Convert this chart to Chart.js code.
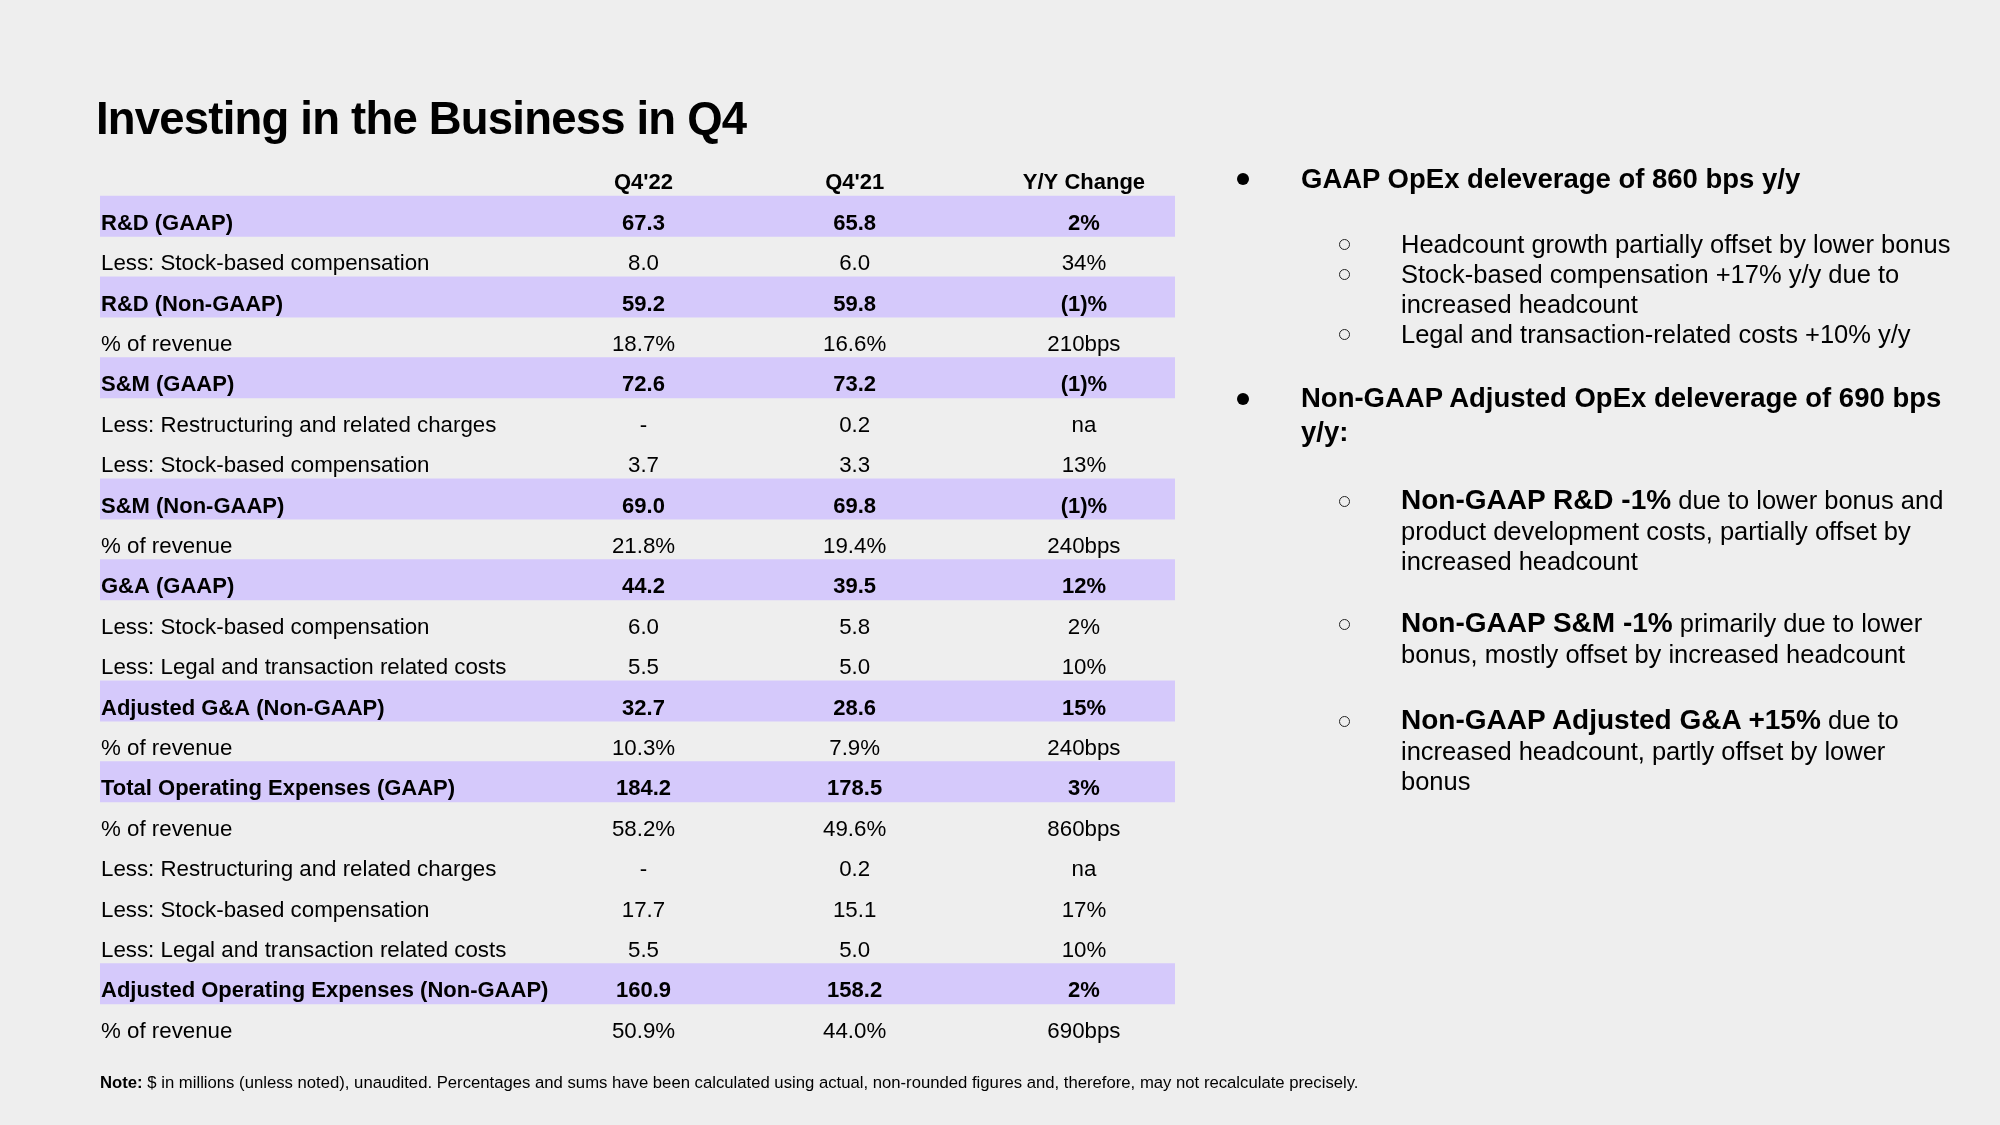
<!DOCTYPE html>
<html>
<head>
<meta charset="utf-8">
<script src="https://cdn.jsdelivr.net/npm/chart.js@4.4.1/dist/chart.umd.min.js"></script>
<style>
  html, body { margin: 0; padding: 0; }
  body { width: 2000px; height: 1125px; background: #eeeeee; position: relative; overflow: hidden;
         font-family: "Liberation Sans", Arial, Helvetica, sans-serif; color: #000; }
  #chart { position: absolute; left: 0; top: 0; }
  .title { position: absolute; left: 96px; top: 94px; font-size: 45.5px; line-height: 50px; font-weight: bold; letter-spacing: -0.8px; }
  .blk { position: absolute; left: 1301px; white-space: nowrap; }
  .head { font-size: 27.5px; font-weight: bold; line-height: 34px; }
  .sub { left: 1401px; font-size: 25.5px; line-height: 30px; }
  .sub b { font-size: 28px; }
  .dot { position: absolute; width: 12px; height: 12px; border-radius: 50%; background: #000; }
  .ring { position: absolute; width: 9px; height: 9px; border-radius: 50%; border: 1.3px solid #222; }
  .note { position: absolute; left: 100px; top: 1073px; font-size: 16.7px; line-height: 20px; white-space: nowrap; }
</style>
</head>
<body>
<canvas id="chart" width="2000" height="1125"></canvas>

<div class="title">Investing in the Business in Q4</div>

<div class="dot" style="left:1237px; top:173px;"></div>
<div class="blk head" style="top:162px;">GAAP OpEx deleverage of 860 bps y/y</div>

<div class="ring" style="left:1339px; top:239px;"></div>
<div class="blk sub" style="top:229px;">Headcount growth partially offset by lower bonus</div>
<div class="ring" style="left:1339px; top:269px;"></div>
<div class="blk sub" style="top:259px;">Stock-based compensation +17% y/y due to<br>increased headcount</div>
<div class="ring" style="left:1339px; top:329px;"></div>
<div class="blk sub" style="top:319px;">Legal and transaction-related costs +10% y/y</div>

<div class="dot" style="left:1237px; top:393px;"></div>
<div class="blk head" style="top:381px;">Non-GAAP Adjusted OpEx deleverage of 690 bps<br>y/y:</div>

<div class="ring" style="left:1339px; top:496px;"></div>
<div class="blk sub" style="top:485px; line-height:30.5px;"><b>Non-GAAP R&amp;D -1%</b> due to lower bonus and<br>product development costs, partially offset by<br>increased headcount</div>
<div class="ring" style="left:1339px; top:619px;"></div>
<div class="blk sub" style="top:608px; line-height:30.5px;"><b>Non-GAAP S&amp;M -1%</b> primarily due to lower<br>bonus, mostly offset by increased headcount</div>
<div class="ring" style="left:1339px; top:716px;"></div>
<div class="blk sub" style="top:705px; line-height:30.5px;"><b>Non-GAAP Adjusted G&amp;A +15%</b> due to<br>increased headcount, partly offset by lower<br>bonus</div>

<div class="note"><b>Note:</b> $ in millions (unless noted), unaudited. Percentages and sums have been calculated using actual, non-rounded figures and, therefore, may not recalculate precisely.</div>

<script>
// table data
const columnHeaders = ["Q4'22", "Q4'21", "Y/Y Change"];
const rowLabels = [
  'R&D (GAAP)', 'Less: Stock-based compensation', 'R&D (Non-GAAP)', '% of revenue',
  'S&M (GAAP)', 'Less: Restructuring and related charges', 'Less: Stock-based compensation',
  'S&M (Non-GAAP)', '% of revenue',
  'G&A (GAAP)', 'Less: Stock-based compensation', 'Less: Legal and transaction related costs',
  'Adjusted G&A (Non-GAAP)', '% of revenue',
  'Total Operating Expenses (GAAP)', '% of revenue', 'Less: Restructuring and related charges',
  'Less: Stock-based compensation', 'Less: Legal and transaction related costs',
  'Adjusted Operating Expenses (Non-GAAP)', '% of revenue'
];
const q4_22 = ['67.3', '8.0', '59.2', '18.7%', '72.6', '-', '3.7', '69.0', '21.8%', '44.2', '6.0', '5.5',
  '32.7', '10.3%', '184.2', '58.2%', '-', '17.7', '5.5', '160.9', '50.9%'];
const q4_21 = ['65.8', '6.0', '59.8', '16.6%', '73.2', '0.2', '3.3', '69.8', '19.4%', '39.5', '5.8', '5.0',
  '28.6', '7.9%', '178.5', '49.6%', '0.2', '15.1', '5.0', '158.2', '44.0%'];
const yoyChange = ['2%', '34%', '(1)%', '210bps', '(1)%', 'na', '13%', '(1)%', '240bps', '12%', '2%', '10%',
  '15%', '240bps', '3%', '860bps', 'na', '17%', '10%', '2%', '690bps'];
const highlighted = [true, false, true, false, true, false, false, true, false, true, false, false,
  true, false, true, false, false, false, false, true, false];

const FONT = '"Liberation Sans", Arial, Helvetica, sans-serif';

// draws the cell texts on top of the row bands, placed with the chart's scales
const tableText = {
  id: 'tableText',
  afterDatasetsDraw(chart, args, opts) {
    const ctx = chart.ctx, xs = chart.scales.x, ys = chart.scales.y;
    const cols = opts.columns;
    ctx.save();
    ctx.fillStyle = '#000';
    ctx.textBaseline = 'alphabetic';
    // header row (category 0)
    ctx.font = 'bold 22px ' + FONT;
    ctx.textAlign = 'center';
    const hy = ys.getPixelForValue(0) + opts.baseline;
    columnHeaders.forEach((h, c) => ctx.fillText(h, xs.getPixelForValue(cols[c]), hy));
    // body rows
    rowLabels.forEach((lab, i) => {
      const yy = ys.getPixelForValue(i + 1) + opts.baseline;
      ctx.font = highlighted[i] ? 'bold 22px ' + FONT : '22.3px ' + FONT;
      ctx.textAlign = 'left';
      ctx.fillText(lab, xs.getPixelForValue(0) + 1, yy);
      ctx.textAlign = 'center';
      [q4_22[i], q4_21[i], yoyChange[i]].forEach((v, c) => ctx.fillText(v, xs.getPixelForValue(cols[c]), yy));
    });
    ctx.restore();
  }
};

new Chart(document.getElementById('chart'), {
  type: 'bar',
  data: {
    labels: [''].concat(rowLabels),
    datasets: [{
      data: [null].concat(highlighted.map(h => h ? 1 : null)),
      backgroundColor: '#d5c9fb',
      borderWidth: 0,
      barPercentage: 1,
      categoryPercentage: 1
    }]
  },
  options: {
    indexAxis: 'y',
    responsive: false,
    animation: false,
    layout: { padding: { left: 100, right: 825, top: 155.6, bottom: 80.6 } },
    scales: {
      x: { display: false, min: 0, max: 1 },
      y: { display: false }
    },
    plugins: {
      legend: { display: false },
      tooltip: { enabled: false },
      tableText: { columns: [0.5056, 0.702, 0.9153], baseline: 13.5 }
    }
  },
  plugins: [tableText]
});
</script>
</body>
</html>
